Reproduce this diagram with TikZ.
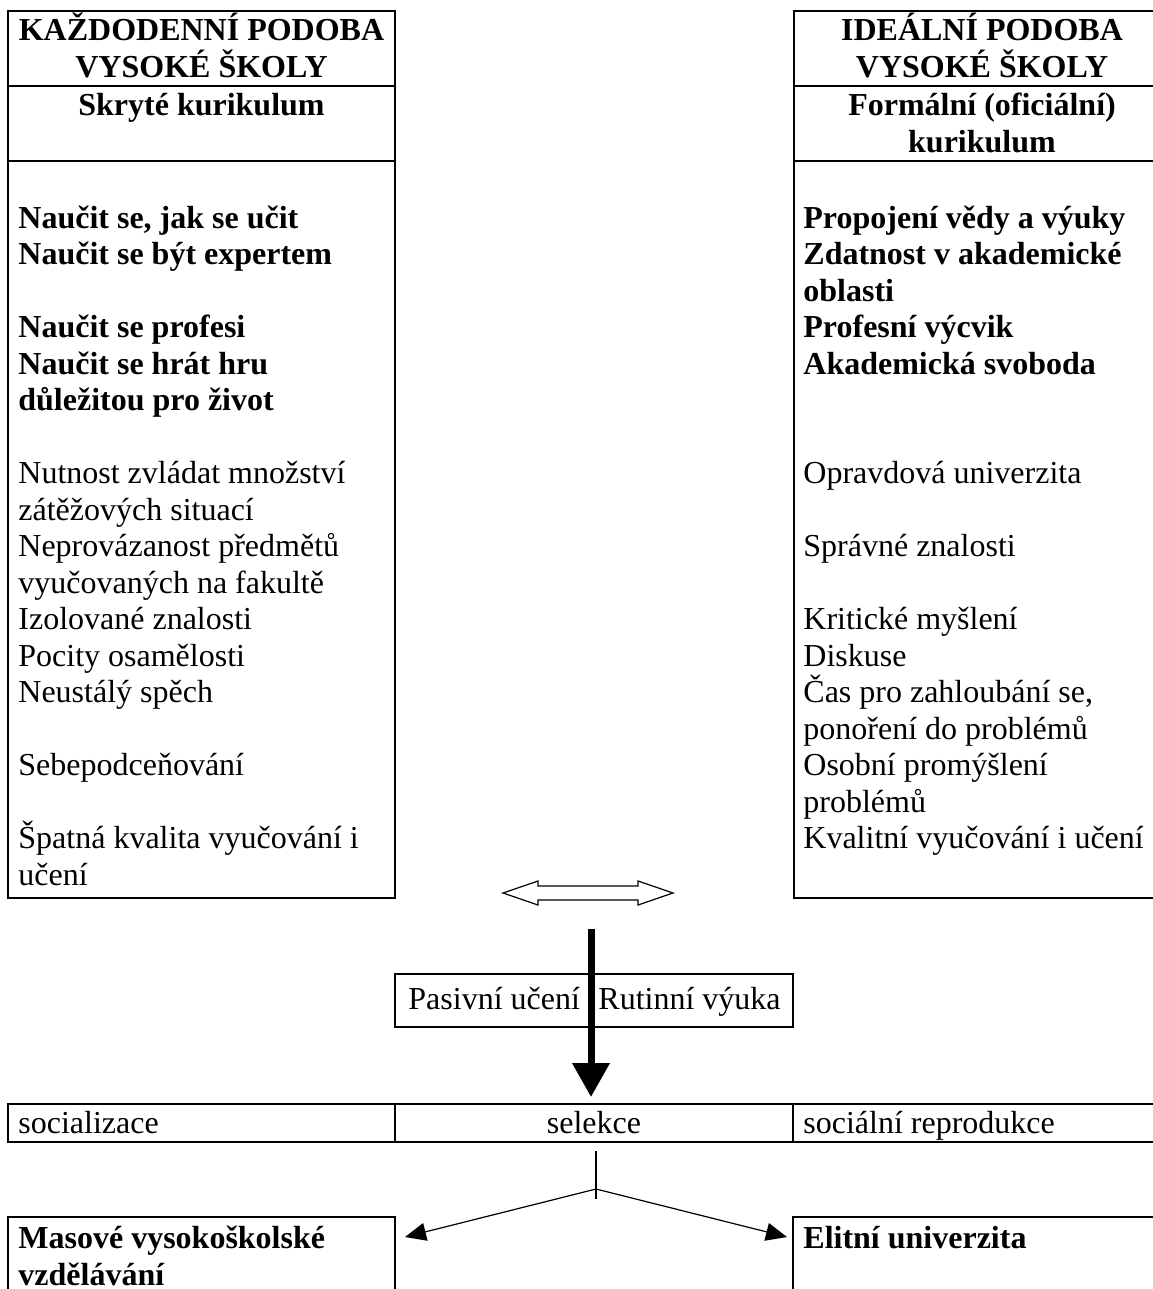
\documentclass[tikz,border=0pt]{standalone}
\usepackage{fontspec}
\setmainfont{Liberation Serif}
\usetikzlibrary{arrows.meta}
\begin{document}
\begin{tikzpicture}[x=0.5pt,y=-0.5pt,
  cell/.style={draw,line width=0.75pt,inner sep=0pt,outer sep=0pt,anchor=north west},
  txt/.style={anchor=base west,inner sep=0pt,font=\fontsize{16pt}{18pt}\selectfont},
  btxt/.style={txt,font=\fontsize{16pt}{18pt}\selectfont\bfseries},
  ctxt/.style={txt,anchor=base},
  cbtxt/.style={btxt,anchor=base},
  conn/.style={line width=0.6pt},
  tip/.style={-{Triangle[length=10.5pt,width=9pt]}},
  bigarrow/.style={line width=3.5pt,-{Triangle[length=17pt,width=18pt]}}]
\useasboundingbox (0,0) rectangle (1152,1289);
\newcommand{\mkcell}[5]{\node[cell,minimum width={(#4-#2)*0.5pt},minimum height={(#5-#3)*0.5pt}] (#1) at (#2,#3) {};}
% top boxes
\mkcell{lhead}{8}{11}{395}{86}
\mkcell{lsub}{8}{86}{395}{161}
\mkcell{lbody}{8}{161}{395}{898}
\mkcell{rhead}{794}{11}{1170}{86}
\mkcell{rsub}{794}{86}{1170}{161}
\mkcell{rbody}{794}{161}{1170}{898}
% middle
\mkcell{pas}{395}{974}{793}{1027}
\mkcell{c1}{8}{1104}{395}{1142}
\mkcell{c2}{395}{1104}{793}{1142}
\mkcell{c3}{793}{1104}{1170}{1142}
\mkcell{b1}{8}{1217}{395}{1310}
\mkcell{b2}{793}{1217}{1170}{1310}
% headers
\node[cbtxt] (lh1) at (201.5,41) {KAŽDODENNÍ PODOBA};
\node[cbtxt] (lh2) at (201.5,78) {VYSOKÉ ŠKOLY};
\node[cbtxt] (ls1) at (201.5,116) {Skryté kurikulum};
\node[cbtxt] (rh1) at (982,41) {IDEÁLNÍ PODOBA};
\node[cbtxt] (rh2) at (982,78) {VYSOKÉ ŠKOLY};
\node[cbtxt] (rs1) at (982,116) {Formální (oficiální)};
\node[cbtxt] (rs2) at (982,153) {kurikulum};
% left body
\foreach \k/\t in {0/{Naučit se, jak se učit},1/{Naučit se být expertem},3/{Naučit se profesi},4/{Naučit se hrát hru},5/{důležitou pro život}}
  \node[btxt] (lb\k) at (18,228+\k*36.5) {\t};
\foreach \k/\t in {7/{Nutnost zvládat množství},8/{zátěžových situací},9/{Neprovázanost předmětů},10/{vyučovaných na fakultě},11/{Izolované znalosti},12/{Pocity osamělosti},13/{Neustálý spěch},15/{Sebepodceňování},17/{Špatná kvalita vyučování i},18/{učení}}
  \node[txt] (ln\k) at (18,228+\k*36.5) {\t};
% right body
\foreach \k/\t in {0/{Propojení vědy a výuky},1/{Zdatnost v akademické},2/{oblasti},3/{Profesní výcvik},4/{Akademická svoboda}}
  \node[btxt] (rb\k) at (803,228+\k*36.5) {\t};
\foreach \k/\t in {7/{Opravdová univerzita},9/{Správné znalosti},11/{Kritické myšlení},12/{Diskuse},13/{Čas pro zahloubání se,},14/{ponoření do problémů},15/{Osobní promýšlení},16/{problémů},17/{Kvalitní vyučování i učení}}
  \node[txt] (rn\k) at (803,228+\k*36.5) {\t};
% double arrow
\coordinate (dac) at (588,893);
\draw[line width=0.6pt,line join=miter] ([shift={(-85,0)}]dac) -- ++(35,-12) -- ++(0,5) -- ++(100,0) -- ++(0,-5) -- ++(35,12) -- ++(-35,12) -- ++(0,-5) -- ++(-100,0) -- ++(0,5) -- cycle;
% pasivni box texts
\node[txt] (pu) at (408,1009) {Pasivní učení};
\node[txt] (rv) at (598,1009) {Rutinní výuka};
% thick arrow
\coordinate (ts) at (591,929);
\coordinate (te) at (591,1097);
\draw[bigarrow] (ts) -- (te);
% row texts
\node[txt] (t1) at (18,1133) {socializace};
\node[ctxt] (t2) at (594,1133) {selekce};
\node[txt] (t3) at (803,1133) {sociální reprodukce};
% branching
\coordinate (sv1) at (596,1151);
\coordinate (sv2) at (596,1199);
\coordinate (sj) at (596,1189);
\coordinate (al) at (405,1237);
\coordinate (ar) at (787,1237);
\draw[conn] (sv1) -- (sv2);
\draw[conn,tip] (sj) -- (al);
\draw[conn,tip] (sj) -- (ar);
% bottom texts
\node[btxt] (m1) at (18,1248) {Masové vysokoškolské};
\node[btxt] (m2) at (18,1285) {vzdělávání};
\node[btxt] (e1) at (803,1248) {Elitní univerzita};
\end{tikzpicture}
\end{document}
